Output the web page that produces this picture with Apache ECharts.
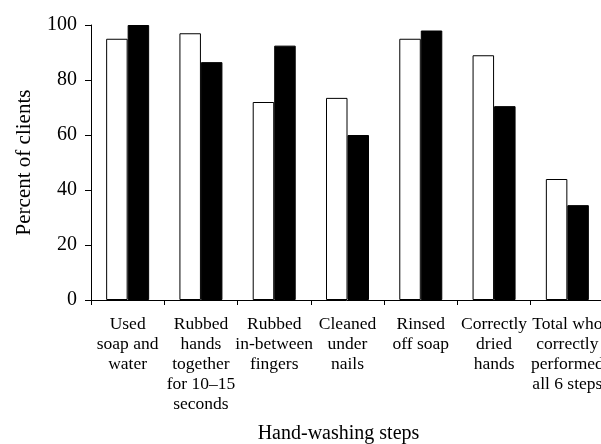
<!DOCTYPE html>
<html>
<head>
<meta charset="utf-8">
<script src="https://cdn.jsdelivr.net/npm/echarts@6/dist/echarts.min.js"></script>
<style>
  html, body { margin: 0; padding: 0; background: #fff; }
  #chart { width: 601px; height: 444px; }
</style>
</head>
<body>
<div id="chart"></div>
<script>
// Etapas da lavagem de mãos (rótulos já quebrados em linhas)
const categorias = [
    'Used\nsoap and\nwater',
    'Rubbed\nhands\ntogether\nfor 10–15\nseconds',
    'Rubbed\nin-between\nfingers',
    'Cleaned\nunder\nnails',
    'Rinsed\noff soap',
    'Correctly\ndried\nhands',
    'Total who\ncorrectly\nperformed\nall 6 steps'
];

// Barras brancas e pretas (percentual de clientes)
const serieBranca = [95, 97, 72, 73.5, 95, 89, 44];
const seriePreta = [100, 86.5, 92.5, 60, 98, 70.5, 34.5];

const yTicks = [0, 20, 40, 60, 80, 100];

const fonte = "'Liberation Serif', 'DejaVu Serif', serif";

const chart = echarts.init(document.getElementById('chart'));

chart.setOption({
    animation: false,
    textStyle: { fontFamily: fonte, color: '#000' },
    // grade fixa: o gráfico original é cortado na borda direita
    grid: { left: 91, top: 25, bottom: 144, right: -3, outerBoundsMode: 'none', containLabel: false },
    xAxis: {
        type: 'category',
        data: categorias,
        name: 'Hand-washing steps',
        nameLocation: 'middle',
        nameGap: 124,
        nameTextStyle: { fontFamily: fonte, fontSize: 20, color: '#000', padding: [0, 18, 0, 0] },
        axisLine: { lineStyle: { color: '#000', width: 1 } },
        axisTick: { show: true, length: 5, lineStyle: { color: '#000' } },
        axisLabel: {
            interval: 0,
            hideOverlap: false,
            margin: 14,
            fontFamily: fonte,
            fontSize: 17.5,
            lineHeight: 20,
            color: '#000',
            align: 'center'
        }
    },
    yAxis: {
        type: 'value',
        min: yTicks[0],
        max: yTicks[yTicks.length - 1],
        interval: 20,
        name: 'Percent of clients',
        nameLocation: 'middle',
        nameRotate: 90,
        nameGap: 56,
        nameTextStyle: { fontFamily: fonte, fontSize: 21, color: '#000' },
        axisLine: { show: true, lineStyle: { color: '#000', width: 1 } },
        axisTick: { show: true, length: 6, lineStyle: { color: '#000' } },
        axisLabel: { margin: 14, fontFamily: fonte, fontSize: 20, color: '#000' },
        splitLine: { show: false }
    },
    series: [
        {
            name: 'Branca',
            type: 'bar',
            data: serieBranca,
            barWidth: 21.5,
            barGap: '0%',
            itemStyle: { color: '#fff', borderColor: '#000', borderWidth: 1 }
        },
        {
            name: 'Preta',
            type: 'bar',
            data: seriePreta,
            barWidth: 21.5,
            barGap: '0%',
            itemStyle: { color: '#000', borderColor: '#000', borderWidth: 1 }
        }
    ]
});
</script>
</body>
</html>
